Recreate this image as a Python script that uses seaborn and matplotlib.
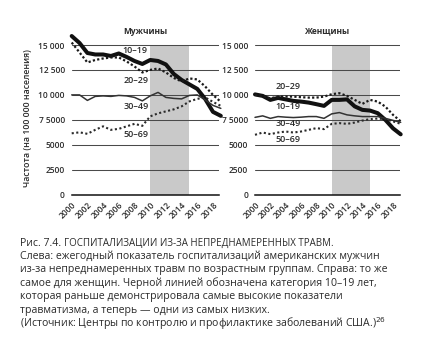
import matplotlib
matplotlib.use("Agg")
import matplotlib.pyplot as plt
import seaborn as sns
import pandas as pd

sns.set_theme(style="white")
plt.rcParams["font.family"] = ["Open Sans", "DejaVu Sans"]

years = list(range(2000, 2020))

# Men, hospitalizations per 100 000
men_10_19 = [15900, 15200, 14200, 14050, 14050, 13900, 14150, 13800, 13400, 13100,
             13500, 13400, 13050, 12100, 11500, 11050, 10600, 9600, 8300, 7900]
men_20_29 = [15250, 14250, 13250, 13500, 13650, 13750, 13750, 13350, 12850, 12250,
             12500, 12650, 12250, 11700, 11350, 11650, 11550, 10850, 10000, 9300]
men_30_49 = [10000, 10000, 9450, 9850, 9900, 9850, 9950, 9900, 9750, 9400,
             9900, 10250, 9750, 9650, 9600, 9950, 10000, 9500, 8950, 8650]
men_50_69 = [6150, 6250, 6100, 6500, 6850, 6500, 6600, 6850, 7100, 6900,
             7850, 8150, 8350, 8550, 8850, 9350, 9600, 9750, 9300, 8900]

# Women, hospitalizations per 100 000
women_10_19 = [10050, 9900, 9500, 9700, 9550, 9400, 9330, 9230, 9070, 8900,
               9500, 9500, 9550, 8850, 8500, 8430, 8170, 7500, 6650, 6050]
women_20_29 = [10000, 9900, 9650, 9830, 9830, 9830, 9770, 9730, 9730, 9830,
               10070, 10170, 9900, 9500, 9100, 9500, 9330, 8830, 8000, 7350]
women_30_49 = [7750, 7900, 7650, 7830, 7770, 7730, 7770, 7830, 7830, 7650,
               8100, 8230, 8000, 7900, 7830, 7830, 7830, 7650, 7450, 7250]
women_50_69 = [6000, 6230, 6070, 6230, 6330, 6230, 6330, 6500, 6670, 6570,
               7100, 7170, 7100, 7230, 7430, 7570, 7630, 7570, 7350, 7100]

groups = ["10–19", "20–29", "30–49", "50–69"]
ytick_vals = [0, 2500, 5000, 7500, 10000, 12500, 15000]
ytick_text = ["0", "2500", "5000", "7 5000", "10 000", "12 500", "15 000"]
xtick_vals = list(range(2000, 2019, 2))

styles = {
    "10–19": dict(color="#111111", lw=2.9, ls="-"),
    "20–29": dict(color="#1a1a1a", lw=1.6, ls=(0, (1, 1))),
    "30–49": dict(color="#333333", lw=1.1, ls="-"),
    "50–69": dict(color="#2a2a2a", lw=1.5, ls=(0, (1, 1.2))),
}

panels = [
    dict(title="Мужчины", series=[men_10_19, men_20_29, men_30_49, men_50_69],
         rect=[0.1637, 0.4405, 0.336, 0.456], xmax=2018.75,
         labels={"10–19": (2006.5, 14400), "20–29": (2006.6, 11400),
                 "30–49": (2006.6, 8800), "50–69": (2006.6, 6000)}),
    dict(title="Женщины", series=[women_10_19, women_20_29, women_30_49, women_50_69],
         rect=[0.5822, 0.4405, 0.330, 0.456], xmax=2018.85,
         labels={"20–29": (2002.7, 10800), "10–19": (2002.7, 8800),
                 "30–49": (2002.7, 7100), "50–69": (2002.7, 5500)}),
]

fig = plt.figure(figsize=(4.38, 3.48), dpi=100)
tc = "#2b2b2b"

for p in panels:
    ax = fig.add_axes(p["rect"])
    ax.set_xlim(2000, p["xmax"])
    ax.set_ylim(0, 15900)
    ax.fill_between([2010, 2015], 0, 15000, color="#c9c9c9", lw=0, zorder=0)
    for v in ytick_vals[1:]:
        ax.axhline(v, color="#4a4a4a", lw=0.75, zorder=1)
    df = pd.DataFrame({"year": years})
    for g, vals in zip(groups, p["series"]):
        st = styles[g]
        df[g] = vals
        sns.lineplot(data=df, x="year", y=g, ax=ax, color=st["color"], lw=st["lw"],
                     linestyle=st["ls"], zorder=3, clip_on=False)
    for g, (lx, ly) in p["labels"].items():
        ax.text(lx, ly, g, fontsize=6.5, color=tc, fontweight="semibold",
                ha="left", va="center", zorder=4)
    for s in ["top", "right", "left"]:
        ax.spines[s].set_visible(False)
    ax.spines["bottom"].set_color("#111111")
    ax.spines["bottom"].set_linewidth(1.1)
    ax.set_yticks(ytick_vals)
    ax.set_yticklabels(ytick_text)
    ax.tick_params(axis="y", length=0, pad=5, labelsize=6, labelcolor=tc)
    for lab in ax.get_yticklabels():
        lab.set_fontweight("semibold")
    ax.set_xticks(xtick_vals)
    ax.set_xticklabels([str(x) for x in xtick_vals], rotation=45, ha="right",
                       rotation_mode="anchor")
    ax.tick_params(axis="x", direction="inout", length=6, width=1.0, color="#111111",
                   labelsize=6, labelcolor=tc, pad=1)
    for lab in ax.get_xticklabels():
        lab.set_fontweight("semibold")
    ax.set_xlabel("")
    ax.set_ylabel("")
    ax.text(0.5, 15000 + 950, p["title"], transform=ax.get_yaxis_transform(),
            ha="center", va="bottom", fontsize=6, fontweight="bold", color=tc)

fig.text(0.062, 0.66, "Частота (на 100 000 населения)", rotation=90, ha="center",
         va="center", fontsize=6.3, color=tc, fontweight="semibold")

caption = [
    "Слева: ежегодный показатель госпитализаций американских мужчин",
    "из-за непреднамеренных травм по возрастным группам. Справа: то же",
    "самое для женщин. Черной линией обозначена категория 10–19 лет,",
    "которая раньше демонстрировала самые высокие показатели",
    "травматизма, а теперь — одни из самых низких.",
    "(Источник: Центры по контролю и профилактике заболеваний США.)$^{26}$",
]
cap_size = 7.6
y0 = 1 - 243 / 348
fig.text(20 / 438, y0, "Рис. 7.4.", fontsize=cap_size, color=tc, va="center", ha="left")
fig.text(64 / 438, y0, "ГОСПИТАЛИЗАЦИИ ИЗ-ЗА НЕПРЕДНАМЕРЕННЫХ ТРАВМ.", fontsize=7.0,
         color=tc, va="center", ha="left")
for i, line in enumerate(caption):
    fig.text(20 / 438, 1 - (256.5 + 13.4 * i) / 348, line, fontsize=cap_size, color=tc,
             va="center", ha="left")

fig.savefig("out.png", dpi=100)
